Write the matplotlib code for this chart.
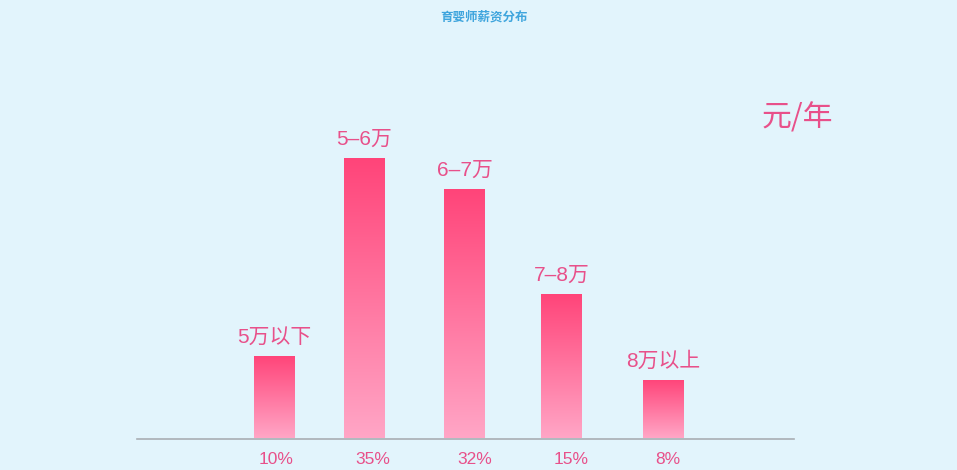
import numpy as np
import matplotlib
matplotlib.use("Agg")
import matplotlib.pyplot as plt
from matplotlib.colors import LinearSegmentedColormap

plt.rcParams['font.family'] = ['Noto Sans CJK SC', 'DejaVu Sans']

categories = ["5万以下", "5–6万", "6–7万", "7–8万", "8万以上"]
bar_heights = [83, 281, 250, 145, 59]
percent_labels = ["10%", "35%", "32%", "15%", "8%"]
title = "育婴师薪资分布"
unit = "元/年"

# layout
x_pos = [274.5, 364.5, 464.5, 561.5, 663.5]
pct_x = [276.5, 373, 475, 571, 668]
bar_w = 41
bg = "#E2F4FC"
pink_text = "#E8508A"
mixed = ['Liberation Sans', 'Noto Sans CJK SC']

fig = plt.figure(figsize=(9.57, 4.70), dpi=100, facecolor=bg)
W, H = 957, 470
ax = fig.add_axes([137 / W, (H - 438.5) / H, (794 - 137) / W, 438.5 / H])
ax.set_facecolor(bg)
ax.set_xlim(137, 794)
ax.set_ylim(0, 438.5)
for s in ["top", "right", "left"]:
    ax.spines[s].set_visible(False)
ax.spines["bottom"].set_color("#A9AEB3")
ax.spines["bottom"].set_linewidth(1.2)
ax.set_xticks([])
ax.set_yticks([])

cmap = LinearSegmentedColormap.from_list("g", ["#FFA6C6", "#FF4479"])
grad = np.linspace(0, 1, 256).reshape(-1, 1)
bars = ax.bar(x_pos, bar_heights, width=bar_w, color="none", edgecolor="none")
for b, h in zip(bars, bar_heights):
    x0 = b.get_x()
    im = ax.imshow(grad, cmap=cmap, origin="lower", aspect="auto",
                   extent=[x0, x0 + b.get_width(), 0, h], zorder=2)
    im.set_clip_path(b)

for x, h, lab in zip(x_pos, bar_heights, categories):
    ax.text(x, h + 9, lab, ha="center", va="bottom", fontsize=15,
            color=pink_text, family=mixed)

for x, p in zip(pct_x, percent_labels):
    ax.text(x, -21, p, ha="center", va="center", fontsize=12.5,
            color=pink_text, clip_on=False, family=mixed)

ax.set_xlim(137, 794)
ax.set_ylim(0, 438.5)

fig.text(484 / W, 1 - 17 / H, title, ha="center", va="center", fontsize=9,
         fontweight="bold", color="#3FA5DD")
fig.text(797 / W, 1 - 118 / H, unit, ha="center", va="center", fontsize=21.5,
         color=pink_text)

fig.savefig("out.png", dpi=100, facecolor=bg)
